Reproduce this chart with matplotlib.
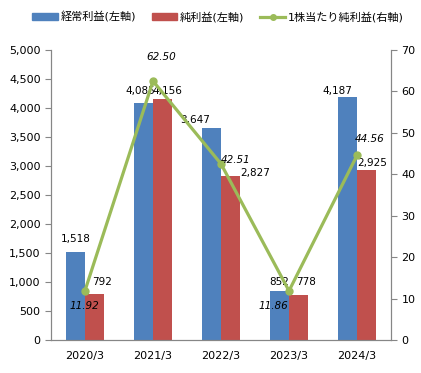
import numpy as np
import matplotlib.pyplot as plt
from matplotlib.lines import Line2D
from matplotlib.patches import Patch

plt.rcParams['font.family'] = ['DejaVu Sans', 'Noto Sans CJK JP']

# データ
years = ['2020/3', '2021/3', '2022/3', '2023/3', '2024/3']
keijo = [1518, 4085, 3647, 852, 4187]      # 経常利益(百万円)
junri = [792, 4156, 2827, 778, 2925]       # 純利益
eps = [11.92, 62.50, 42.51, 11.86, 44.56]  # 1株当たり純利益

# ラベル位置の調整(ピクセル)
off_keijo = [(0, 13), (-3, 12), (-16, 8), (0, 9), (-10, 6)]
off_junri = [(8, 12), (5, 8), (25, 3), (8, 13), (6, 7)]
off_eps = [(-1, -15), (8, 24), (15, 4), (-16, -15), (13, 16)]

c_blue = '#4F81BD'
c_red = '#C0504D'
c_green = '#9BBB59'
c_axis = '#868686'

fig = plt.figure(figsize=(4.21, 3.73), dpi=100)
ax = fig.add_axes([51 / 421, 33 / 373, 340 / 421, 290 / 373])
ax2 = ax.twinx()

x = np.arange(len(years))
w = 0.28
ax.bar(x - w / 2, keijo, w, color=c_blue)
ax.bar(x + w / 2, junri, w, color=c_red)

for i in range(len(years)):
    ax.annotate(f'{keijo[i]:,}', (x[i] - w / 2, keijo[i]), xytext=off_keijo[i],
                textcoords='offset pixels', ha='center', va='center', fontsize=7.5)
    ax.annotate(f'{junri[i]:,}', (x[i] + w / 2, junri[i]), xytext=off_junri[i],
                textcoords='offset pixels', ha='center', va='center', fontsize=7.5)

ax2.plot(x, eps, color=c_green, lw=2.3, marker='o', markersize=5)
for i in range(len(years)):
    ax2.annotate(f'{eps[i]:.2f}', (x[i], eps[i]), xytext=off_eps[i],
                 textcoords='offset pixels', ha='center', va='center',
                 fontsize=7.5, style='italic')

ax.set_xlim(-0.5, len(years) - 0.5)
ax.set_ylim(0, 5000)
ax.set_yticks(np.arange(0, 5001, 500))
ax.set_yticklabels([f'{v:,}' for v in range(0, 5001, 500)])
ax2.set_ylim(0, 70)
ax2.set_yticks(np.arange(0, 71, 10))
ax.set_xticks(x)
ax.set_xticklabels(years)

for a in (ax, ax2):
    a.spines['top'].set_visible(False)
    for s in ('left', 'right', 'bottom'):
        a.spines[s].set_color(c_axis)
    a.tick_params(axis='y', colors=c_axis, labelcolor='black', labelsize=8, length=4)
ax.tick_params(axis='x', length=0, labelsize=8, pad=8)

handles = [Patch(color=c_blue), Patch(color=c_red),
           Line2D([0], [0], color=c_green, lw=2.3, marker='o', markersize=4)]
labels = ['経常利益(左軸)', '純利益(左軸)', '1株当たり純利益(右軸)']
fig.legend(handles, labels, loc='upper center', bbox_to_anchor=(0.518, 0.997), ncol=3,
           frameon=False, fontsize=8, handlelength=2.3, handleheight=0.55,
           columnspacing=1.4, handletextpad=0.25)

fig.savefig('out.png', dpi=100)
